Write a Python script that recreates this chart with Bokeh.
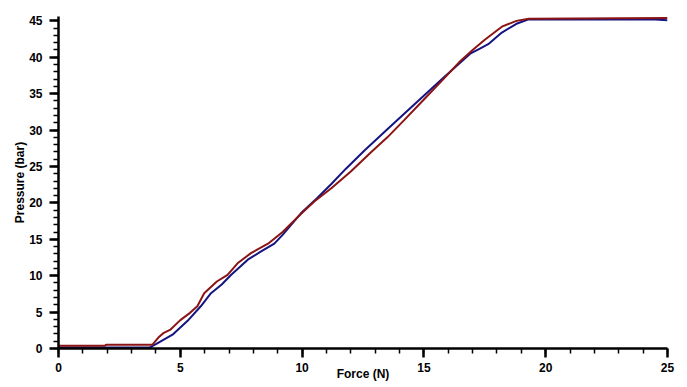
from bokeh.plotting import figure
from bokeh.models import SingleIntervalTicker, Range1d
from bokeh.embed import file_html
from bokeh.resources import INLINE

# Red curve (Force N, Pressure bar)
red_force = [0, 1.9, 1.95, 3.85, 4.1, 4.3, 4.6, 5.0, 5.4, 5.7, 5.98, 6.5, 6.94, 7.35,
             7.9, 8.6, 9.2, 9.96, 10.5, 11.2, 12.0, 12.84, 13.5, 14.2, 15.0, 15.8,
             16.5, 17.0, 17.5, 18.2, 18.8, 19.3, 25.0]
red_pressure = [0.37, 0.37, 0.5, 0.5, 1.5, 2.1, 2.6, 3.9, 4.9, 5.8, 7.6, 9.2, 10.1, 11.7,
                13.1, 14.4, 16.0, 18.5, 20.2, 22.0, 24.3, 27.0, 29.0, 31.4, 34.2, 37.0,
                39.5, 41.0, 42.4, 44.2, 45.0, 45.3, 45.4]

# Blue curve
blue_force = [0, 3.75, 4.0, 4.68, 5.3, 5.84, 6.26, 6.7, 7.08, 7.77, 8.3, 8.86, 9.2,
              9.96, 10.6, 11.2, 11.8, 12.56, 13.5, 14.76, 15.8, 16.9, 17.3, 17.64,
              18.2, 18.8, 19.3, 24.5, 25.0]
blue_pressure = [0.15, 0.15, 0.6, 1.9, 3.8, 5.8, 7.6, 8.8, 10.1, 12.2, 13.3, 14.4, 15.6,
                 18.6, 20.6, 22.6, 24.7, 27.2, 30.1, 34.0, 37.2, 40.5, 41.2, 41.8,
                 43.4, 44.6, 45.2, 45.2, 45.1]

x_label = "Force (N)"
y_label = "Pressure (bar)"

p = figure(width=680, height=384, output_backend="svg", toolbar_location=None,
           x_range=Range1d(0, 25), y_range=Range1d(0, 45.6),
           min_border_left=58, min_border_right=13, min_border_top=16,
           min_border_bottom=36)
p.background_fill_color = "white"
p.border_fill_color = "white"
p.outline_line_color = None
p.xgrid.visible = False
p.ygrid.visible = False

p.line(blue_force, blue_pressure, line_color="#141482", line_width=2)
p.line(red_force, red_pressure, line_color="#8c1414", line_width=2)

p.xaxis.ticker = SingleIntervalTicker(interval=5, num_minor_ticks=5)
p.yaxis.ticker = SingleIntervalTicker(interval=5, num_minor_ticks=5)

for ax in (p.xaxis, p.yaxis):
    ax.axis_line_width = 2.5
    ax.axis_line_color = "black"
    ax.major_tick_line_width = 2.5
    ax.major_tick_line_color = "black"
    ax.minor_tick_line_width = 1.5
    ax.minor_tick_line_color = "black"
    ax.major_tick_out = 9
    ax.major_tick_in = 0
    ax.minor_tick_out = 5
    ax.minor_tick_in = 0
    ax.major_label_text_font = "Liberation Sans"
    ax.major_label_text_font_style = "bold"
    ax.major_label_text_font_size = "12px"
    ax.major_label_text_color = "black"
    ax.axis_label_text_font = "Liberation Sans"
    ax.axis_label_text_font_style = "bold"
    ax.axis_label_text_font_size = "12px"
    ax.axis_label_text_color = "black"

p.xaxis.axis_label = x_label
p.yaxis.axis_label = y_label
p.xaxis.major_label_standoff = 5
p.xaxis.axis_label_standoff = -8
p.yaxis.major_label_standoff = 7
p.yaxis.axis_label_standoff = -1

open("out.html", "w").write(file_html(p, INLINE))
